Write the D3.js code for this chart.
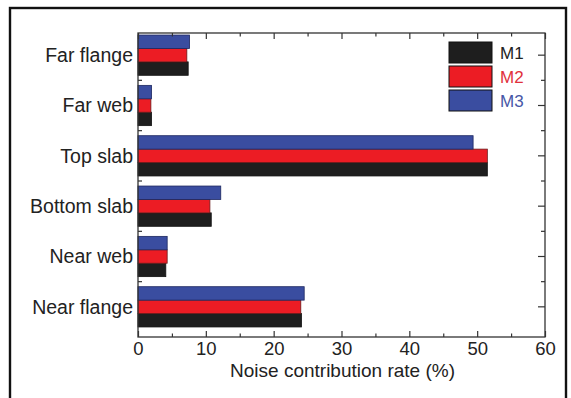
<!DOCTYPE html>
<html>
<head>
<meta charset="utf-8">
<script src="https://cdn.jsdelivr.net/npm/d3@7"></script>
<style>
  html, body { margin: 0; padding: 0; background: #fff; }
  svg { display: block; }
  text { font-family: "Liberation Sans", Arial, Helvetica, sans-serif; fill: #222; }
</style>
</head>
<body>
<svg id="chart" width="571" height="398"></svg>
<script>
// Component names, listed top to bottom
const categories = ["Far flange", "Far web", "Top slab", "Bottom slab", "Near web", "Near flange"];
// Noise contribution rate (%) for each model
const seriesNames = ["M1", "M2", "M3"];
const m1 = [7.4, 2.0, 51.5, 10.8, 4.1, 24.1];
const m2 = [7.2, 1.9, 51.5, 10.6, 4.3, 24.0];
const m3 = [7.6, 2.0, 49.4, 12.2, 4.3, 24.5];
const xTicks = [0, 10, 20, 30, 40, 50, 60];
const xMinorTicks = [5, 15, 25, 35, 45, 55];
const xTitle = "Noise contribution rate (%)";

const colors = { M1: "#1e1e1e", M2: "#ec1c24", M3: "#3a4da0" };
const strokes = { M1: "#111", M2: "#6a1b1b", M3: "#1d2760" };
const labelColors = { M1: "#222", M2: "#e0303c", M3: "#4757a6" };

const svg = d3.select("#chart");

// outer frame around the whole figure
svg.append("rect")
  .attr("x", 10).attr("y", 8).attr("width", 556).attr("height", 400)
  .attr("fill", "none").attr("stroke", "#111").attr("stroke-width", 2.4);

const plot = { left: 138, right: 545, top: 33, bottom: 337 };

const x = d3.scaleLinear().domain([0, 60]).range([plot.left, plot.right]);
const y = d3.scaleBand().domain(categories).range([30, 332]).paddingInner(0.2).paddingOuter(0.1);
const inner = d3.scaleBand().domain(["M3", "M2", "M1"]).range([0, y.bandwidth()]);

const rows = categories.map((c, i) => ({ cat: c, M1: m1[i], M2: m2[i], M3: m3[i] }));

// bars
const groups = svg.append("g").selectAll("g").data(rows).join("g")
  .attr("transform", d => `translate(0,${y(d.cat)})`);

groups.selectAll("rect")
  .data(d => seriesNames.map(s => ({ s, v: d[s] })))
  .join("rect")
  .attr("x", x(0))
  .attr("y", d => inner(d.s))
  .attr("width", d => x(d.v) - x(0))
  .attr("height", inner.bandwidth())
  .attr("fill", d => colors[d.s])
  .attr("stroke", d => strokes[d.s])
  .attr("stroke-width", 0.8);

// plot frame
svg.append("rect")
  .attr("x", plot.left).attr("y", plot.top)
  .attr("width", plot.right - plot.left).attr("height", plot.bottom - plot.top)
  .attr("fill", "none").attr("stroke", "#333").attr("stroke-width", 1.3);

// bottom axis: ticks point inward
const bottomAxis = svg.append("g").attr("transform", `translate(0,${plot.bottom})`);
bottomAxis.call(d3.axisBottom(x).tickValues(xTicks).tickSizeInner(-6).tickSizeOuter(0).tickPadding(5))
  .call(g => g.select(".domain").remove());
bottomAxis.selectAll(".tick line").attr("stroke", "#333").attr("stroke-width", 1.2);
bottomAxis.selectAll(".tick text").attr("font-size", 18.5).attr("fill", "#222")
  .attr("font-family", "'Liberation Sans', Arial, sans-serif");
bottomAxis.append("g").call(d3.axisBottom(x).tickValues(xMinorTicks).tickSize(-3.5).tickFormat(""))
  .call(g => g.select(".domain").remove())
  .selectAll("line").attr("stroke", "#333").attr("stroke-width", 1.2);

// top axis: ticks point inward
const topAxis = svg.append("g").attr("transform", `translate(0,${plot.top})`);
topAxis.call(d3.axisTop(x).tickValues(xTicks).tickSize(-6).tickFormat(""))
  .call(g => g.select(".domain").remove());
topAxis.append("g").call(d3.axisTop(x).tickValues(xMinorTicks).tickSize(-3.5).tickFormat(""))
  .call(g => g.select(".domain").remove());
topAxis.selectAll("line").attr("stroke", "#333").attr("stroke-width", 1.2);

// category positions (band centres) and boundaries between them
const centres = categories.map(c => y(c) + y.bandwidth() / 2);
const bounds = centres.slice(1).map((c, i) => (c + centres[i]) / 2);

// left axis: labels at centres, small inward ticks at boundaries
svg.append("g").selectAll("line").data(bounds).join("line")
  .attr("x1", plot.left).attr("x2", plot.left + 4)
  .attr("y1", d => d).attr("y2", d => d)
  .attr("stroke", "#333").attr("stroke-width", 1.2);
svg.append("g").selectAll("text").data(categories).join("text")
  .attr("x", plot.left - 5)
  .attr("y", c => y(c) + y.bandwidth() / 2)
  .attr("dy", "0.35em")
  .attr("text-anchor", "end")
  .attr("font-size", 19.5)
  .text(c => c);

// right axis: major inward ticks at centres, minor at boundaries
svg.append("g").selectAll("line").data(centres).join("line")
  .attr("x1", plot.right - 7).attr("x2", plot.right)
  .attr("y1", d => d).attr("y2", d => d)
  .attr("stroke", "#333").attr("stroke-width", 1.2);
svg.append("g").selectAll("line").data(bounds).join("line")
  .attr("x1", plot.right - 4).attr("x2", plot.right)
  .attr("y1", d => d).attr("y2", d => d)
  .attr("stroke", "#333").attr("stroke-width", 1.2);

// x-axis title
svg.append("text")
  .attr("x", (plot.left + plot.right) / 2 + 1)
  .attr("y", 377)
  .attr("text-anchor", "middle")
  .attr("font-size", 19)
  .text(xTitle);

// legend
const legend = svg.append("g").attr("transform", "translate(449,42)");
const item = legend.selectAll("g").data(seriesNames).join("g")
  .attr("transform", (d, i) => `translate(0,${i * 24})`);
item.append("rect")
  .attr("width", 43).attr("height", 21)
  .attr("fill", d => colors[d])
  .attr("stroke", "#111").attr("stroke-width", 1);
item.append("text")
  .attr("x", 51).attr("y", 10.5).attr("dy", "0.36em")
  .attr("font-size", 17)
  .style("fill", d => labelColors[d])
  .text(d => d);
</script>
</body>
</html>
